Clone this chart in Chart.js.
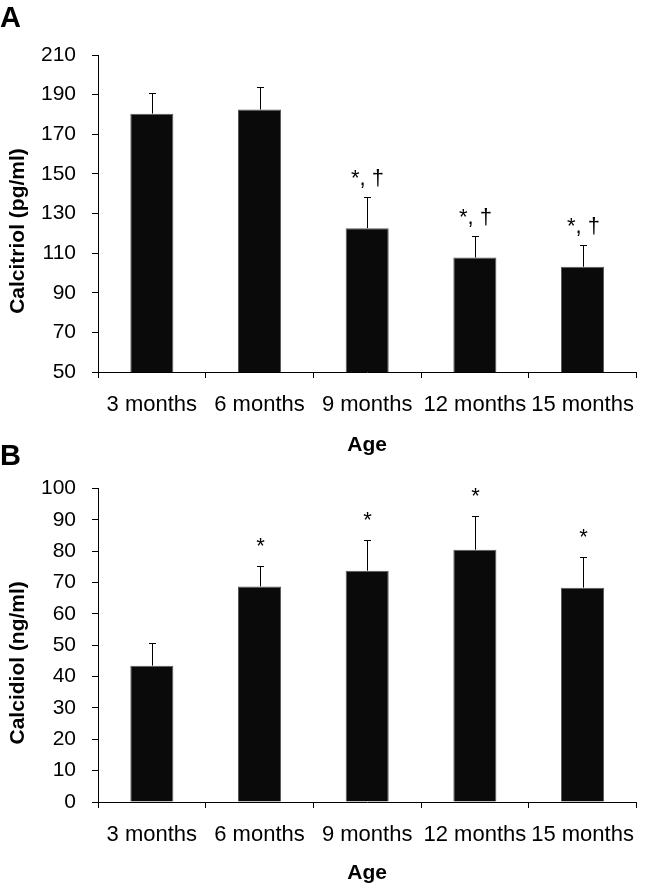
<!DOCTYPE html>
<html><head><meta charset="utf-8">
<script src="https://cdn.jsdelivr.net/npm/chart.js@4.4.1/dist/chart.umd.min.js"></script>
<style>
html,body{margin:0;padding:0;background:#fff;}
#wrap{position:relative;width:648px;height:890px;overflow:hidden;background:#fff;}
.panel{position:absolute;left:0;width:648px;}
.tag{position:absolute;left:0;font:bold 29px 'Liberation Sans',Arial,sans-serif;line-height:29px;color:#000;}
</style></head><body>
<div id="wrap">
  <div class="panel" style="top:0;height:460px"><canvas id="cA"></canvas></div>
  <div class="panel" style="top:460px;height:430px"><canvas id="cB"></canvas></div>
  <div class="tag" style="top:3px">A</div>
  <div class="tag" style="top:441px">B</div>
</div>
<script>
// ---- data ----
const categories = ['3 months', '6 months', '9 months', '12 months', '15 months'];

const calcitriolMeans  = [180.4, 182.5, 122.6, 107.8, 103.1];
const calcitriolErrors = [10.6, 11.5, 15.8, 10.6, 11.2];
const calcitriolMarks  = ['', '', '*, †', '*, †', '*, †'];
const calcitriolAxis   = [50, 210, 20];   // min, max, step

const calcidiolMeans  = [43.5, 68.8, 73.8, 80.5, 68.4];
const calcidiolErrors = [7.2, 6.5, 9.9, 10.6, 9.9];
const calcidiolMarks  = ['', '*', '*', '*', '*'];
const calcidiolAxis   = [0, 100, 10];

const xTitle = 'Age';
const yTitleA = 'Calcitriol (pg/ml)';
const yTitleB = 'Calcidiol (ng/ml)';

// ---- drawing ----
const FONT = "'Liberation Sans', Arial, sans-serif";

const errorBars = {
  id: 'errorBars',
  afterDatasetsDraw(chart, args, opts) {
    const ctx = chart.ctx;
    const y = chart.scales.y;
    const meta = chart.getDatasetMeta(0);
    const vals = chart.data.datasets[0].data;
    ctx.save();
    ctx.strokeStyle = '#000';
    ctx.fillStyle = '#000';
    ctx.lineWidth = 1;
    meta.data.forEach((bar, i) => {
      const cx = Math.round(bar.x) + 0.5;
      const yBase = y.getPixelForValue(vals[i]);
      const yTop = Math.round(y.getPixelForValue(vals[i] + opts.errors[i])) + 0.5;
      ctx.beginPath();
      ctx.moveTo(cx, yBase);
      ctx.lineTo(cx, yTop);
      ctx.moveTo(cx - 3.5, yTop);
      ctx.lineTo(cx + 3.5, yTop);
      ctx.stroke();
      if (opts.marks[i]) {
        ctx.font = '22px ' + FONT;
        ctx.textAlign = 'center';
        ctx.textBaseline = 'alphabetic';
        ctx.fillText(opts.marks[i], cx, yTop - opts.gap);
      }
    });
    ctx.restore();
  }
};

function makeChart(id, means, errors, marks, axis, yTitle, titleBottomPad, gap) {
  return new Chart(document.getElementById(id), {
    type: 'bar',
    data: {
      labels: categories,
      datasets: [{
        data: means,
        backgroundColor: '#0a0a0a',
        borderColor: '#5a5a5a',
        borderWidth: 1,
        categoryPercentage: 1.0,
        barPercentage: 0.4
      }]
    },
    options: {
      responsive: true,
      maintainAspectRatio: false,
      animation: false,
      devicePixelRatio: 1,
      layout: { padding: { top: id === 'cA' ? 55 : 25, right: 1, bottom: 0, left: 0 } },
      plugins: {
        legend: { display: false },
        tooltip: { enabled: false },
        errorBars: { errors: errors, marks: marks, gap: gap }
      },
      scales: {
        x: {
          grid: { display: true, drawOnChartArea: false, drawTicks: true, tickLength: 6, color: '#000', offset: true },
          border: { display: true, color: '#000', width: 1 },
          ticks: { color: '#000', padding: 14, maxRotation: 0, autoSkip: false, font: { family: FONT, size: 22 } },
          title: { display: true, text: xTitle, color: '#000', font: { family: FONT, size: 21, weight: 'bold' }, padding: { top: 0, bottom: titleBottomPad } },
          afterFit(s) { s.height = 88; }
        },
        y: {
          min: axis[0], max: axis[1],
          grid: { display: true, drawOnChartArea: false, drawTicks: true, tickLength: 6, color: '#000' },
          border: { display: true, color: '#000', width: 1 },
          ticks: { stepSize: axis[2], color: '#000', padding: 16, font: { family: FONT, size: 21 } },
          title: { display: true, text: yTitle + '      ', color: '#000', font: { family: FONT, size: 21, weight: 'bold' }, padding: { top: 6, bottom: 0 } },
          afterFit(s) { s.width = 98; }
        }
      }
    },
    plugins: [errorBars]
  });
}

makeChart('cA', calcitriolMeans, calcitriolErrors, calcitriolMarks, calcitriolAxis, yTitleA, 2.4, 13);
makeChart('cB', calcidiolMeans, calcidiolErrors, calcidiolMarks, calcidiolAxis, yTitleB, 4, 14);
</script>
</body></html>
